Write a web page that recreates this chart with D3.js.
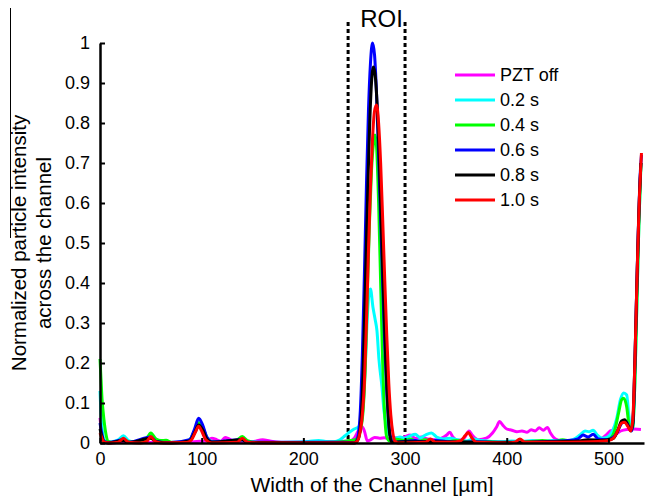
<!DOCTYPE html>
<html>
<head>
<meta charset="utf-8">
<script src="https://cdn.jsdelivr.net/npm/d3@7.9.0/dist/d3.min.js"></script>
<style>
  body { margin: 0; background: #fff; }
  svg { display: block; font-family: "Liberation Sans", Arial, sans-serif; }
</style>
</head>
<body>
<svg id="chart"></svg>
<script>
// series values: [width µm, normalized intensity]
const pztOff = [[0,0.063],[1.5,0.03],[3,0.01],[5,0.003],[10,0],[20,0.002],[30,0.004],[40,0.002],[60,0.001],[80,0.002],[95,0.004],[104,0.005],[110,0.012],[115,0.008],[119,0.004],[123,0.014],[127,0.01],[132,0.004],[140,0.002],[150,0.003],[160,0.008],[167,0.005],[180,0.001],[200,0.001],[220,0.002],[235,0.004],[245,0.005],[250,0.012],[254,0.03],[258,0.04],[260,0.03],[263,0.005],[266,0.008],[270,0.014],[275,0.012],[280,0.013],[285,0.01],[290,0.013],[296,0.012],[300,0.016],[305,0.02],[310,0.012],[316,0.015],[322,0.01],[330,0.008],[336,0.012],[341,0.02],[344,0.027],[347,0.015],[352,0.006],[358,0.012],[363,0.03],[366,0.02],[372,0.008],[380,0.012],[386,0.025],[390,0.04],[393,0.054],[396,0.045],[400,0.035],[405,0.032],[410,0.028],[415,0.03],[420,0.027],[424,0.033],[428,0.03],[432,0.038],[436,0.032],[440,0.039],[443,0.025],[448,0.01],[455,0.005],[465,0.004],[475,0.005],[485,0.008],[492,0.01],[497,0.018],[503,0.031],[507,0.022],[512,0.03],[518,0.034],[525,0.035],[532,0.034]];

const s02 = [[0,0.13],[1,0.07],[2.5,0.025],[4,0.008],[7,0.002],[12,0.003],[18,0.008],[23,0.018],[28,0.006],[35,0.002],[42,0.004],[50,0.02],[55,0.01],[60,0.004],[70,0.001],[80,0.002],[88,0.008],[93,0.03],[97,0.055],[101,0.04],[105,0.015],[110,0.004],[120,0.002],[130,0.003],[140,0.008],[145,0.004],[155,0.002],[170,0.001],[190,0.002],[205,0.004],[215,0.006],[222,0.004],[230,0.003],[236,0.008],[241,0.018],[246,0.028],[250,0.035],[254,0.04],[257,0.05],[259,0.1],[261,0.2],[263,0.32],[265,0.38],[266,0.385],[268.4,0.34],[270.5,0.31],[272.4,0.28],[274.3,0.21],[277.3,0.14],[279.3,0.08],[282.2,0.04],[286,0.015],[290,0.012],[295,0.015],[300,0.012],[305,0.018],[310,0.022],[315,0.013],[320,0.02],[326,0.025],[331,0.015],[338,0.01],[345,0.012],[352,0.008],[360,0.005],[368,0.01],[375,0.006],[385,0.004],[395,0.003],[405,0.005],[415,0.004],[425,0.006],[435,0.004],[445,0.006],[455,0.004],[465,0.008],[472,0.02],[477,0.03],[481,0.028],[485,0.032],[489,0.02],[494,0.012],[499,0.015],[504,0.03],[508,0.06],[512,0.11],[515,0.125],[518,0.12],[520,0.07],[522,0.035],[524,0.04],[526,0.15],[528,0.35],[530,0.55],[532,0.7]];

const s04 = [[0,0.21],[1,0.16],[2,0.11],[3,0.08],[4.5,0.045],[6,0.02],[8,0.004],[12,0.001],[18,0.004],[23,0.01],[28,0.003],[38,0.002],[45,0.008],[50,0.025],[55,0.01],[60,0.006],[65,0.007],[70,0.002],[80,0.001],[88,0.006],[93,0.03],[97,0.05],[101,0.038],[105,0.014],[110,0.003],[125,0.002],[135,0.008],[140,0.016],[145,0.006],[155,0.001],[200,0.001],[230,0.002],[240,0.004],[246,0.006],[250,0.008],[253,0.012],[256,0.03],[259,0.09],[261,0.2],[263,0.38],[265,0.55],[267,0.68],[269,0.75],[270.5,0.77],[272,0.74],[274,0.6],[276,0.4],[278,0.2],[280,0.07],[282,0.015],[285,0.005],[290,0.01],[295,0.008],[300,0.006],[305,0.01],[312,0.004],[320,0.008],[330,0.004],[340,0.003],[350,0.006],[360,0.004],[370,0.002],[380,0.003],[395,0.002],[410,0.002],[425,0.004],[435,0.006],[445,0.004],[455,0.008],[462,0.005],[470,0.003],[480,0.006],[488,0.008],[495,0.006],[502,0.012],[506,0.03],[510,0.075],[513,0.108],[515,0.112],[518,0.09],[520,0.05],[522,0.03],[524,0.04],[526,0.15],[528,0.35],[530,0.55],[532,0.7]];

const s06 = [[0,0.05],[1,0.035],[2.5,0.015],[4,0.004],[8,0.001],[23,0.008],[28,0.002],[50,0.015],[55,0.004],[70,0.001],[88,0.008],[93,0.035],[97,0.062],[101,0.045],[105,0.015],[110,0.003],[140,0.008],[145,0.002],[240,0.002],[250,0],[253,0.01],[256,0.08],[258,0.22],[260,0.42],[262,0.64],[264,0.83],[266,0.95],[268,1.0],[270,0.97],[272,0.87],[274,0.72],[276,0.56],[278,0.4],[280,0.25],[282,0.13],[284,0.05],[286,0.012],[288,0.002],[300,0.004],[310,0.006],[320,0.003],[330,0.006],[340,0.004],[350,0.002],[370,0.003],[390,0.002],[420,0.002],[440,0.004],[460,0.006],[470,0.01],[475,0.02],[480,0.015],[485,0.022],[490,0.01],[498,0.008],[503,0.012],[507,0.02],[511,0.04],[515,0.055],[518,0.052],[521,0.035],[523,0.03],[525,0.1],[527,0.3],[529,0.5],[531,0.66],[532.5,0.72]];

const s08 = [[0,0.035],[1,0.025],[2.5,0.01],[4,0.003],[8,0],[23,0.006],[28,0.001],[50,0.012],[55,0.003],[70,0],[88,0.005],[93,0.025],[97,0.045],[101,0.033],[105,0.01],[110,0.002],[140,0.008],[145,0.001],[250,0],[254,0.01],[257,0.07],[259,0.2],[261,0.4],[263,0.6],[265,0.78],[267,0.9],[269,0.94],[271,0.91],[273,0.82],[275,0.68],[277,0.52],[279,0.36],[281,0.21],[283,0.09],[285,0.02],[287,0.002],[300,0.003],[330,0.003],[360,0.002],[400,0.001],[440,0.003],[470,0.005],[480,0.008],[490,0.006],[500,0.008],[505,0.012],[509,0.03],[513,0.055],[516,0.058],[519,0.045],[522,0.032],[524,0.05],[526,0.2],[528,0.4],[530,0.58],[532,0.7]];

const s10 = [[0,0.025],[1.5,0.015],[3,0.006],[5,0.001],[10,0],[18,0.002],[23,0.012],[28,0.002],[40,0],[46,0.004],[50,0.016],[54,0.004],[60,0],[85,0.001],[90,0.008],[94,0.028],[97,0.042],[100,0.03],[104,0.008],[110,0],[135,0.002],[140,0.012],[145,0.002],[160,0],[250,0],[253,0.005],[256,0.03],[258,0.07],[260,0.15],[262,0.3],[264,0.48],[266,0.64],[268,0.76],[270,0.83],[272,0.845],[274,0.8],[276,0.7],[278,0.56],[280,0.41],[282,0.27],[284,0.15],[286,0.07],[288,0.025],[290,0.005],[293,0],[320,0.002],[325,0.01],[330,0.002],[345,0.002],[355,0.006],[359,0.018],[362,0.026],[366,0.012],[370,0.002],[400,0],[408,0.002],[413,0.01],[418,0.002],[460,0.002],[490,0.004],[500,0.006],[505,0.012],[509,0.03],[513,0.05],[516,0.052],[519,0.042],[522,0.03],[524,0.06],[526,0.2],[528,0.4],[530,0.58],[532.5,0.725]];

const seriesNames = ['PZT off', '0.2 s', '0.4 s', '0.6 s', '0.8 s', '1.0 s'];
const seriesData = [pztOff, s02, s04, s06, s08, s10];
const colors = ['#ff00ff', '#00ffff', '#00ff00', '#0000ff', '#000000', '#ff0000'];

const xTicks = [0, 100, 200, 300, 400, 500];
const yTicks = [0, 0.1, 0.2, 0.3, 0.4, 0.5, 0.6, 0.7, 0.8, 0.9, 1];
const roiBounds = [244, 300];

const width = 645;
const height = 500;
const margin = { top: 43, right: 1, bottom: 57, left: 100 };

const svg = d3.select('#chart')
  .attr('width', width)
  .attr('height', height);

const xScale = d3.scaleLinear()
  .domain([0, 535])
  .range([margin.left, width - margin.right]);

const yScale = d3.scaleLinear()
  .domain([0, 1])
  .range([height - margin.bottom, margin.top]);

// stray border line from the source figure
svg.append('line')
  .attr('x1', 10.5).attr('x2', 10.5)
  .attr('y1', 8).attr('y2', 238)
  .attr('stroke', '#000')
  .attr('stroke-width', 1);

// ROI dotted box sides
roiBounds.forEach(v => {
  svg.append('line')
    .attr('x1', xScale(v)).attr('x2', xScale(v))
    .attr('y1', 22).attr('y2', yScale(0))
    .attr('stroke', '#000')
    .attr('stroke-width', 3)
    .attr('stroke-dasharray', '4,3');
});

svg.append('text')
  .attr('x', xScale(d3.mean(roiBounds)) + 5)
  .attr('y', 27)
  .attr('text-anchor', 'middle')
  .attr('font-size', 24)
  .text('ROI');

// lines
const line = d3.line()
  .x(d => xScale(d[0]))
  .y(d => yScale(d[1]))
  .curve(d3.curveMonotoneX);

seriesData.forEach((data, idx) => {
  svg.append('path')
    .datum(data)
    .attr('fill', 'none')
    .attr('stroke', colors[idx])
    .attr('stroke-width', 3)
    .attr('stroke-linejoin', 'round')
    .attr('d', line);
});

// axes
const xAxis = d3.axisBottom(xScale)
  .tickValues(xTicks)
  .tickSizeInner(-5)
  .tickSizeOuter(0)
  .tickPadding(9);

const yAxis = d3.axisLeft(yScale)
  .tickValues(yTicks)
  .tickFormat(d3.format('~g'))
  .tickSizeInner(-5)
  .tickSizeOuter(0)
  .tickPadding(10);

const gx = svg.append('g')
  .attr('transform', `translate(0, ${yScale(0)})`)
  .call(xAxis);

const gy = svg.append('g')
  .attr('transform', `translate(${margin.left}, 0)`)
  .call(yAxis);

[gx, gy].forEach(g => {
  g.select('.domain').attr('stroke-width', 2.5);
  g.selectAll('.tick line').attr('stroke-width', 2);
  g.selectAll('.tick text')
    .attr('font-size', 18)
    .attr('font-family', '"Liberation Sans", Arial, sans-serif')
    .attr('fill', '#000');
});

// axis titles
svg.append('text')
  .attr('x', (xScale.range()[0] + xScale.range()[1]) / 2)
  .attr('y', 492)
  .attr('text-anchor', 'middle')
  .attr('font-size', 21)
  .text('Width of the Channel [µm]');

const yTitle = svg.append('text')
  .attr('transform', 'translate(26, 243) rotate(-90)')
  .attr('text-anchor', 'middle')
  .attr('font-size', 20.5);
yTitle.append('tspan').attr('x', 0).attr('y', 0).text('Normalized particle intensity');
yTitle.append('tspan').attr('x', 0).attr('y', 25).text('across the channel');

// legend
const legend = svg.append('g')
  .attr('transform', 'translate(455, 75)');

seriesNames.forEach((name, i) => {
  const row = legend.append('g').attr('transform', `translate(0, ${i * 25})`);
  row.append('line')
    .attr('x1', 0).attr('x2', 40)
    .attr('stroke', colors[i])
    .attr('stroke-width', 3);
  row.append('text')
    .attr('x', 45)
    .attr('dy', '0.35em')
    .attr('font-size', 18)
    .text(name);
});
</script>
</body>
</html>
